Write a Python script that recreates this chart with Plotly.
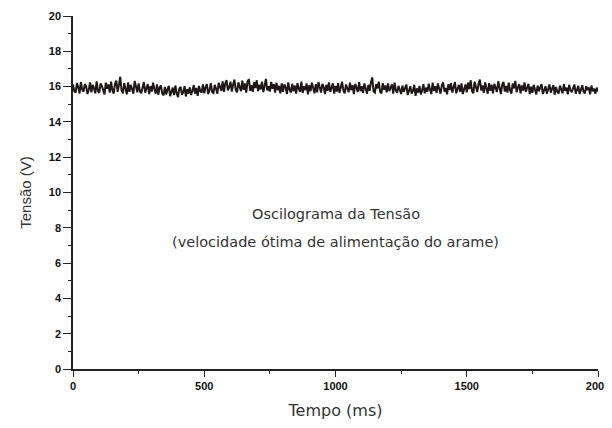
import plotly.graph_objects as go

# Time axis (ms), one sample every 5 ms
tempo_ms = list(range(0, 2001, 5))

# Voltage (V)
tensao_v = [
    16.12, 15.74, 15.66, 16.20, 15.98, 15.60, 16.26, 15.84, 15.70, 16.14,
    16.02, 15.58, 15.82, 16.24, 15.68, 16.10, 15.90, 15.62, 16.30, 15.76,
    15.64, 16.18, 16.04, 15.72, 15.56, 16.22, 15.88, 16.12, 15.66, 16.28,
    15.80, 15.60, 16.16, 16.34, 15.70, 16.08, 16.56, 15.78, 15.62, 16.20,
    15.94, 15.56, 16.24, 15.70, 16.10, 15.84, 15.60, 16.32, 15.96, 15.68,
    16.18, 15.74, 15.62, 16.06, 16.26, 15.66, 15.88, 16.14, 15.58, 16.02,
    15.72, 16.22, 15.86, 15.60, 16.12, 15.54, 15.96, 16.06, 15.62, 15.50,
    15.98, 15.56, 15.84, 16.04, 15.46, 15.70, 15.94, 15.52, 16.06, 15.62,
    15.40, 15.88, 15.98, 15.54, 15.68, 16.02, 15.44, 15.86, 15.60, 15.96,
    15.52, 15.78, 16.08, 15.60, 15.92, 15.48, 16.04, 15.74, 15.66, 16.12,
    15.62, 15.96, 16.14, 15.58, 15.80, 16.20, 15.70, 15.64, 16.10, 15.88,
    15.60, 16.22, 15.92, 15.76, 16.30, 15.70, 16.18, 16.36, 15.78, 15.96,
    16.28, 15.72, 16.12, 16.40, 15.80, 15.68, 16.24, 16.04, 15.74, 16.34,
    15.82, 16.18, 15.66, 16.30, 16.42, 15.76, 16.08, 15.70, 16.26, 15.92,
    16.36, 15.74, 16.10, 15.84, 16.28, 15.68, 16.20, 16.44, 15.78, 16.02,
    15.72, 16.26, 15.88, 16.14, 15.66, 16.22, 15.80, 16.04, 15.62, 16.18,
    15.70, 16.12, 15.96, 15.58, 16.24, 15.82, 15.66, 16.16, 15.74, 16.06,
    15.60, 16.20, 15.88, 15.70, 16.28, 15.64, 16.02, 15.80, 16.18, 15.56,
    16.08, 15.74, 16.22, 15.92, 15.62, 16.14, 15.68, 16.26, 15.84, 15.66,
    16.16, 15.98, 15.58, 16.10, 15.76, 16.24, 15.70, 15.90, 16.18, 15.60,
    16.04, 15.72, 16.20, 15.64, 15.94, 16.28, 15.78, 15.62, 16.12, 15.86,
    15.68, 16.22, 15.80, 16.08, 15.58, 16.16, 15.92, 15.70, 16.26, 15.74,
    16.02, 15.64, 16.18, 15.84, 15.60, 16.10, 15.76, 16.24, 16.52, 15.72,
    15.66, 16.14, 15.90, 16.28, 15.70, 15.62, 16.20, 15.82, 16.06, 15.68,
    16.18, 15.74, 15.96, 16.12, 15.60, 16.22, 15.78, 15.66, 16.04, 15.84,
    15.58, 16.06, 15.70, 15.92, 16.12, 15.52, 15.84, 16.02, 15.60, 15.76,
    16.10, 15.48, 15.90, 15.66, 16.04, 15.56, 15.80, 16.14, 15.62, 15.94,
    15.70, 16.16, 15.84, 15.58, 16.22, 15.76, 16.02, 15.64, 16.18, 15.90,
    15.60, 16.08, 16.24, 15.72, 15.92, 15.56, 16.14, 15.80, 16.20, 15.66,
    15.98, 16.26, 15.62, 15.84, 16.10, 15.70, 16.18, 15.58, 15.96, 16.12,
    15.68, 16.22, 15.86, 16.36, 15.74, 15.62, 16.28, 15.92, 15.70, 16.16,
    16.40, 15.78, 16.06, 15.64, 16.24, 15.88, 15.60, 16.20, 15.76, 16.10,
    15.62, 16.16, 15.94, 15.70, 16.30, 15.82, 15.58, 16.12, 16.26, 15.72,
    16.04, 15.66, 16.22, 15.80, 15.60, 16.18, 15.90, 16.32, 15.68, 15.96,
    16.14, 15.62, 16.06, 15.78, 16.24, 15.70, 15.88, 16.16, 15.58, 16.00,
    15.64, 16.10, 15.82, 15.56, 16.06, 15.74, 15.96, 16.14, 15.58, 15.86,
    16.02, 15.60, 15.90, 16.12, 15.66, 15.84, 16.08, 15.54, 15.98, 15.72,
    15.60, 16.06, 15.88, 15.62, 16.14, 15.76, 15.94, 15.56, 16.10, 15.80,
    15.68, 15.98, 16.12, 15.60, 15.86, 16.04, 15.58, 15.92, 16.08, 15.70,
    15.62, 16.02, 15.80, 15.96, 15.56, 16.06, 15.74, 15.88, 15.60, 15.94,
    15.72,
]

x_ticks = [0, 500, 1000, 1500, 2000]
y_ticks = [0, 2, 4, 6, 8, 10, 12, 14, 16, 18, 20]

annotation_line1 = "Oscilograma da Tensão"
annotation_line2 = "(velocidade ótima de alimentação do arame)"

fig = go.Figure()
fig.add_trace(go.Scatter(
    x=tempo_ms, y=tensao_v, mode="lines",
    line=dict(color="#1e1818", width=2.0),
    showlegend=False, hoverinfo="skip",
))

tick_font = dict(family="Liberation Sans, Arial, sans-serif", size=11, color="#111111", weight="bold")
title_family = "DejaVu Sans, Verdana, sans-serif"

fig.update_xaxes(
    range=[0, 2000], tickvals=x_ticks, ticktext=[str(v) for v in x_ticks],
    showgrid=False, zeroline=False, showline=True, linecolor="#222222", linewidth=1.5,
    ticks="outside", ticklen=6, tickwidth=1.3, tickcolor="#222222",
    minor=dict(ticks="outside", ticklen=3, dtick=250, tick0=0, tickcolor="#222222", tickwidth=1),
    tickfont=tick_font, ticklabeloverflow="allow",
    title=dict(text="Tempo (ms)", font=dict(family=title_family, size=16, color="#333333"), standoff=14),
)
fig.update_yaxes(
    range=[0, 20], tickvals=y_ticks, ticktext=[str(v) for v in y_ticks],
    showgrid=False, zeroline=False, showline=True, linecolor="#222222", linewidth=1.5,
    ticks="outside", ticklen=8, tickwidth=1.3, tickcolor="#222222",
    minor=dict(ticks="outside", ticklen=3, dtick=1, tick0=0, tickcolor="#222222", tickwidth=1),
    tickfont=tick_font, ticklabeloverflow="allow",
    title=dict(text="Tensão (V)", font=dict(family="Liberation Sans, Arial, sans-serif", size=15, color="#333333"), standoff=14),
)

fig.add_annotation(
    x=1000, y=8.8, xref="x", yref="y", text=annotation_line1,
    showarrow=False, font=dict(family=title_family, size=14.5, color="#333333"),
)
fig.add_annotation(
    x=1000, y=7.2, xref="x", yref="y", text=annotation_line2,
    showarrow=False, font=dict(family=title_family, size=14.5, color="#333333"),
)

fig.update_layout(
    width=604, height=420,
    margin=dict(l=65, r=2, t=7, b=59),
    paper_bgcolor="white", plot_bgcolor="white",
)

fig.write_html("out.html")
